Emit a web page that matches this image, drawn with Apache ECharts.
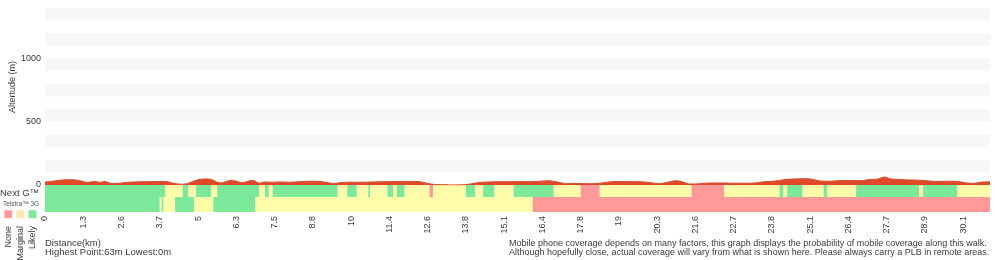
<!DOCTYPE html>
<html>
<head>
<meta charset="utf-8">
<script src="https://cdn.jsdelivr.net/npm/echarts@6/dist/echarts.min.js"></script>
<style>
  html, body { margin: 0; padding: 0; background: #fff; }
  #chart { width: 1000px; height: 260px; }
</style>
</head>
<body>
<div id="chart"></div>
<script>
// Distance (km) printed under every 20th track sample
const distLabels = ['0', '1.3', '2.6', '3.7', '5', '6.3', '7.5', '8.8', '10', '11.4', '12.6', '13.8',
  '15.1', '16.4', '17.8', '19', '20.3', '21.6', '22.7', '23.8', '25.1', '26.4', '27.7', '28.9', '30.1'];
const samplesPerLabel = 20;
const lastSample = 494;

// Elevation profile: [track sample, metres]
const elevation = [
  [0, 24], [4, 30], [8, 38], [12, 42], [16, 40], [19, 32], [22, 20], [26, 28], [29, 21], [31, 28],
  [35, 12], [38, 12], [42, 20], [47, 24], [53, 26], [59, 28], [64, 26], [67, 14], [71, 6], [74, 10],
  [77, 26], [80, 42], [84, 48], [87, 44], [90, 22], [92, 16], [96, 34], [98, 36], [101, 26], [103, 18],
  [107, 34], [109, 36], [112, 14], [115, 24], [119, 22], [123, 24], [128, 22], [133, 26], [138, 30], [144, 28],
  [151, 12], [154, 18], [159, 22], [166, 22], [171, 24], [178, 26], [184, 28], [191, 28], [196, 26], [200, 12],
  [204, 4], [209, 2], [214, 0], [220, 3], [223, 10], [227, 20], [232, 24], [238, 26], [243, 26], [248, 28],
  [253, 26], [259, 30], [263, 34], [267, 26], [273, 10], [278, 12], [285, 10], [290, 14], [296, 26], [303, 28],
  [311, 26], [316, 20], [321, 10], [325, 20], [330, 34], [333, 26], [337, 8], [340, 8], [345, 14], [350, 16],
  [355, 16], [360, 14], [366, 14], [371, 16], [376, 26], [381, 30], [387, 44], [392, 48], [397, 50], [401, 46],
  [405, 32], [410, 30], [415, 34], [422, 36], [427, 34], [431, 44], [435, 46], [439, 63], [442, 48], [447, 44],
  [452, 40], [457, 38], [462, 32], [467, 28], [473, 30], [477, 28], [481, 18], [485, 12], [489, 22], [494, 26]
];

// Coverage runs: [from sample, to sample, level]  (0 none, 1 marginal, 2 likely)
const nextG = [
  [0, 63, 2], [63, 72, 1], [72, 75, 2], [75, 79, 1], [79, 87, 2], [87, 90, 1], [90, 112, 2], [112, 115, 1],
  [115, 117, 2], [117, 119, 1], [119, 153, 2], [153, 158, 1], [158, 163, 2], [163, 169, 1], [169, 170, 2],
  [170, 179, 1], [179, 182, 2], [182, 184, 1], [184, 188, 2], [188, 201, 1], [201, 203, 0], [203, 220, 1],
  [220, 225, 2], [225, 229, 1], [229, 235, 2], [235, 245, 1], [245, 266, 2], [266, 280, 1], [280, 290, 0],
  [290, 338, 1], [338, 355, 0], [355, 384, 1], [384, 386, 2], [386, 388, 1], [388, 396, 2], [396, 407, 1],
  [407, 409, 2], [409, 424, 1], [424, 457, 2], [457, 459, 1], [459, 477, 2], [477, 494, 1]
];
const telstra3G = [
  [0, 60, 2], [60, 61, 1], [61, 62, 2], [62, 68, 1], [68, 78, 2], [78, 88, 1], [88, 110, 2],
  [110, 255, 1], [255, 494, 0]
];

const levelNames = ['None', 'Marginal', 'Likely'];
const levelColors = ['#ff9a98', '#fffcaa', '#7ce99a'];
const legendColors = ['#ff9a9a', '#ffe6aa', '#7ce99a'];

const FONT = '"Liberation Sans", Arial, sans-serif';
const TEXT = '#3a3a3a';

const maxElev = Math.max(...elevation.map(p => p[1]));
const minElev = Math.min(...elevation.map(p => p[1]));

const chart = echarts.init(document.getElementById('chart'), null, { renderer: 'canvas' });

function coverageItem(params, api) {
  const x0 = api.coord([api.value(0), 0])[0];
  const x1 = api.coord([api.value(1), 0])[0];
  const cs = params.coordSys;
  return {
    type: 'rect',
    shape: { x: x0, y: cs.y, width: x1 - x0, height: cs.height },
    style: { fill: levelColors[api.value(2)] }
  };
}

const plainX = (gridIndex) => ({
  type: 'value', gridIndex, min: 0, max: lastSample,
  axisLine: { show: false }, axisTick: { show: false }, axisLabel: { show: false }, splitLine: { show: false }
});
const plainY = (gridIndex) => ({
  type: 'value', gridIndex, min: 0, max: 1, show: false
});

const legendGraphics = [];
levelNames.forEach((name, i) => {
  const cx = 8.3 + i * 12.1;
  legendGraphics.push({
    type: 'rect', shape: { x: cx - 4.2, y: 210, width: 8.4, height: 8.4 },
    style: { fill: legendColors[i], stroke: 'rgba(255,255,255,0.55)', lineWidth: 1 }
  });
  legendGraphics.push({
    type: 'text', x: cx, y: 226, rotation: Math.PI / 2,
    style: { text: name, font: '9px ' + FONT, fill: TEXT, textAlign: 'right', textVerticalAlign: 'middle' }
  });
});

chart.setOption({
  animation: false,
  grid: [
    { left: 45, right: 10, top: 8, height: 177 },
    { left: 45, right: 10, top: 185, height: 12 },
    { left: 45, right: 10, top: 197, height: 15 }
  ],
  xAxis: [
    plainX(0),
    plainX(1),
    {
      type: 'value', gridIndex: 2, min: 0, max: lastSample, interval: samplesPerLabel,
      axisLine: { show: false }, axisTick: { show: false }, splitLine: { show: false },
      axisLabel: {
        rotate: 90, margin: 4, fontSize: 9, fontFamily: FONT, color: TEXT,
        showMaxLabel: false,
        formatter: (v) => {
          const i = v / samplesPerLabel;
          return Number.isInteger(i) && distLabels[i] !== undefined ? distLabels[i] : '';
        }
      }
    }
  ],
  yAxis: [
    {
      type: 'value', gridIndex: 0, min: 0, max: 1400, interval: 100,
      axisLine: { show: false }, axisTick: { show: false }, splitLine: { show: false },
      splitArea: { show: true, areaStyle: { color: ['#ffffff', '#f7f7f7'] } },
      axisLabel: {
        margin: 4, fontSize: 9, fontFamily: FONT, color: TEXT, showMaxLabel: false,
        formatter: (v) => (v % 500 === 0 ? String(v) : '')
      }
    },
    plainY(1),
    plainY(2)
  ],
  series: [
    {
      type: 'line', xAxisIndex: 0, yAxisIndex: 0, data: elevation,
      showSymbol: false, smooth: 0.3, silent: true,
      lineStyle: { color: '#dc4a2a', width: 1 },
      areaStyle: { color: '#dc4a2a', opacity: 1 }
    },
    {
      type: 'custom', xAxisIndex: 1, yAxisIndex: 1, data: nextG, silent: true,
      encode: { x: [0, 1] }, renderItem: coverageItem
    },
    {
      type: 'custom', xAxisIndex: 2, yAxisIndex: 2, data: telstra3G, silent: true,
      encode: { x: [0, 1] }, renderItem: coverageItem
    }
  ],
  graphic: [
    {
      type: 'text', x: 13, y: 87, rotation: Math.PI / 2,
      style: { text: 'Altertude (m)', font: '9px ' + FONT, fill: TEXT, textAlign: 'center', textVerticalAlign: 'middle' }
    },
    {
      type: 'text', x: 0, y: 193,
      style: { text: 'Next G™', font: '9.5px ' + FONT, fill: TEXT, textAlign: 'left', textVerticalAlign: 'middle' }
    },
    {
      type: 'text', x: 3, y: 204.5,
      style: { text: 'Telstra™ 3G', font: '6.5px ' + FONT, fill: '#555', textAlign: 'left', textVerticalAlign: 'middle' }
    },
    ...legendGraphics,
    {
      type: 'text', x: 45, y: 243.5,
      style: { text: 'Distance(km)', font: '9.5px ' + FONT, fill: TEXT, textAlign: 'left', textVerticalAlign: 'middle' }
    },
    {
      type: 'text', x: 45, y: 252.5,
      style: { text: 'Highest Point:' + maxElev + 'm Lowest:' + minElev + 'm', font: '9.5px ' + FONT, fill: TEXT, textAlign: 'left', textVerticalAlign: 'middle' }
    },
    {
      type: 'text', x: 509, y: 243.5,
      style: { text: 'Mobile phone coverage depends on many factors, this graph displays the probability of mobile coverage along this walk.', font: '9px ' + FONT, fill: TEXT, textAlign: 'left', textVerticalAlign: 'middle' }
    },
    {
      type: 'text', x: 509, y: 252.5,
      style: { text: 'Although hopefully close, actual coverage will vary from what is shown here. Please always carry a PLB in remote areas.', font: '9px ' + FONT, fill: TEXT, textAlign: 'left', textVerticalAlign: 'middle' }
    }
  ]
});
</script>
</body>
</html>
